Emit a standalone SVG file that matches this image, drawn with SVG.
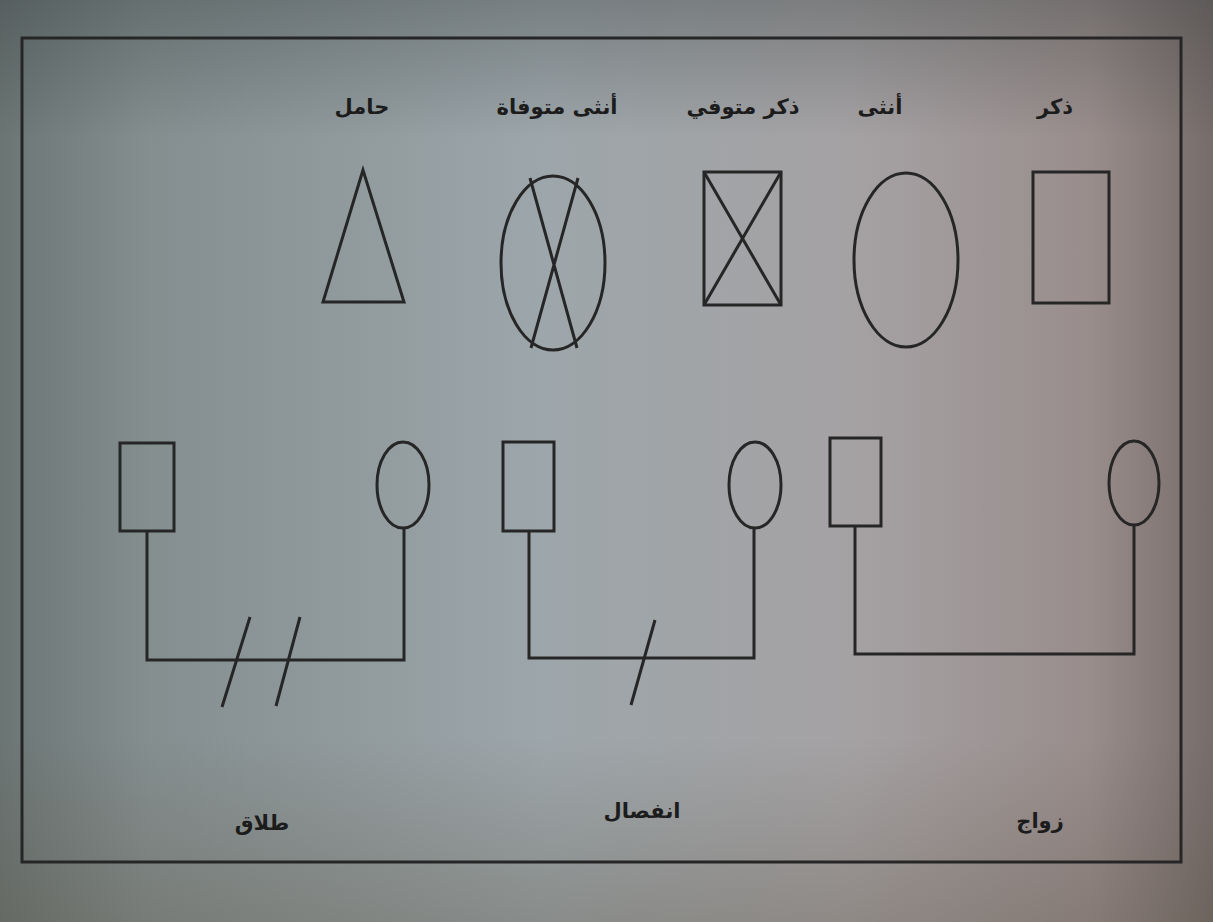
<svg xmlns="http://www.w3.org/2000/svg" width="1213" height="922" viewBox="0 0 1213 922">
<defs>
<linearGradient id="bgx" x1="0" y1="0" x2="1" y2="0">
<stop offset="0" stop-color="#6b7574"/>
<stop offset="0.12" stop-color="#848e8f"/>
<stop offset="0.45" stop-color="#9da6aa"/>
<stop offset="0.7" stop-color="#a5a2a4"/>
<stop offset="0.9" stop-color="#998d8c"/>
<stop offset="1" stop-color="#766c6a"/>
</linearGradient>
<linearGradient id="bgy" x1="0" y1="0" x2="0" y2="1">
<stop offset="0" stop-color="#303838" stop-opacity="0.35"/>
<stop offset="0.15" stop-color="#303838" stop-opacity="0"/>
<stop offset="0.8" stop-color="#5a5040" stop-opacity="0"/>
<stop offset="1" stop-color="#5a5040" stop-opacity="0.3"/>
</linearGradient>
<style>
.s{fill:none;stroke:#262626;stroke-width:3}
.t{font-family:"DejaVu Sans",sans-serif;font-weight:bold;font-size:21px;fill:#1c1c1c;text-anchor:middle}
</style>
</defs>
<rect width="1213" height="922" fill="url(#bgx)"/>
<rect width="1213" height="922" fill="url(#bgy)"/>
<rect x="22" y="38" width="1159" height="824" class="s"/>

<g id="male">
<rect x="1033" y="172" width="76" height="131" class="s"/>
<text class="t" x="1055" y="114" direction="rtl">ذكر</text>
</g>
<g id="female">
<ellipse cx="906" cy="260" rx="52" ry="87" class="s"/>
<text class="t" x="880" y="114" direction="rtl">أنثى</text>
</g>
<g id="deceased-male">
<rect x="704" y="172" width="77" height="133" class="s"/>
<path d="M704 172L781 305M781 172L704 305" class="s"/>
<text class="t" x="743" y="114" direction="rtl">ذكر متوفي</text>
</g>
<g id="deceased-female">
<ellipse cx="553" cy="263" rx="52" ry="87" class="s"/>
<path d="M530 178L577 348M578 178L531 348" class="s"/>
<text class="t" x="557" y="114" direction="rtl">أنثى متوفاة</text>
</g>
<g id="pregnant">
<path d="M363 170L323 302L404 302Z" class="s"/>
<text class="t" x="362" y="114" direction="rtl">حامل</text>
</g>

<g id="divorce-male"><rect x="120" y="443" width="54" height="88" class="s"/></g>
<g id="divorce-female"><ellipse cx="403" cy="485" rx="26" ry="43" class="s"/></g>
<g id="separation-male"><rect x="503" y="442" width="51" height="89" class="s"/></g>
<g id="separation-female"><ellipse cx="755" cy="485" rx="26" ry="43" class="s"/></g>
<g id="marriage-male"><rect x="830" y="438" width="51" height="88" class="s"/></g>
<g id="marriage-female"><ellipse cx="1134" cy="483" rx="25" ry="42" class="s"/></g>

<g id="connectors">
<path d="M147 531V660H404V528" class="s"/>
<path d="M222 707L250 617M276 706L300 617" class="s"/>
<path d="M529 531V658H754V528" class="s"/>
<path d="M631 705L655 620" class="s"/>
<path d="M855 526V654H1134V525" class="s"/>
</g>

<g id="labels">
<text class="t" x="262" y="830" direction="rtl">طلاق</text>
<text class="t" x="642" y="818" direction="rtl">انفصال</text>
<text class="t" x="1040" y="828" direction="rtl">زواج</text>
</g>
</svg>
